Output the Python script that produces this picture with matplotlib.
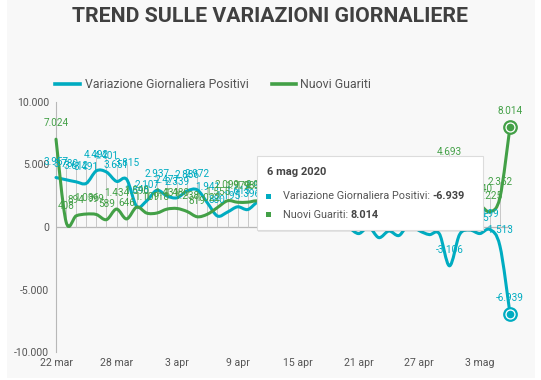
import numpy as np
import pandas as pd
import matplotlib
matplotlib.use('Agg')
import matplotlib.pyplot as plt
from matplotlib.path import Path
from matplotlib.patches import PathPatch, Rectangle
from matplotlib.lines import Line2D

plt.rcParams['font.family'] = ['Roboto', 'DejaVu Sans']

# daily data, 22 mar -> 6 mag 2020
dates = pd.date_range('2020-03-22', '2020-05-06', freq='D')
positivi = [3957, 3780, 3612, 3491, 4492, 4401, 3651, 3815, 1648, 2107,
            2937, 2477, 2339, 2886, 2972, 1941, 880, 1195, 1615, 1396,
            1996, 1984, 1363, 675, 1127, 1189, 355, 809, 486, -20,
            -528, -10, -851, -321, -680, 256, -290, -608, -548, -3106,
            -608, -239, -525, -199, -1513, -6939]
guariti = [7024, 408, 894, 1036, 999, 589, 1434, 646, 1590, 1109,
           1118, 1431, 1480, 1238, 819, 1022, 1555, 2099, 1979, 1985,
           2079, 1677, 1224, 1695, 962, 2072, 2563, 2200, 2128, 1822,
           2723, 2943, 3033, 2922, 2622, 1808, 1696, 2317, 2311, 4693,
           2304, 1665, 1740, 1225, 2352, 8014]
tick_labels = ['22 mar', '28 mar', '3 apr', '9 apr', '15 apr', '21 apr', '27 apr', '3 mag']
y_ticks = [10000, 5000, 0, -5000, -10000]

CYAN = '#00acc1'
GREEN = '#43a047'
TXT = '#555555'
W, H = 541, 380


def fmt(v):
    return f"{v:,}".replace(',', '.')


def spline_path(x, y):
    # catmull-rom style smooth line through the points
    xp = np.r_[x[0], x, x[-1]].astype(float)
    yp = np.r_[y[0], y, y[-1]].astype(float)
    verts = [(xp[1], yp[1])]
    codes = [Path.MOVETO]
    for i in range(len(x) - 1):
        c1 = (xp[i + 1] + (xp[i + 2] - xp[i]) / 6, yp[i + 1] + (yp[i + 2] - yp[i]) / 6)
        c2 = (xp[i + 2] - (xp[i + 3] - xp[i + 1]) / 6, yp[i + 2] - (yp[i + 3] - yp[i + 1]) / 6)
        verts += [c1, c2, (xp[i + 2], yp[i + 2])]
        codes += [Path.CURVE4] * 3
    return Path(verts, codes)


fig = plt.figure(figsize=(W / 100, H / 100), dpi=100, facecolor='white')
fig.add_artist(Rectangle((7 / W, 2 / H), 528 / W, 1 - 2 / H, transform=fig.transFigure,
                         facecolor='#f8f8f8', edgecolor='none', zorder=-10))

ax = fig.add_axes([56 / W, (H - 352) / H, 454 / W, 250 / H])
ax.set_facecolor('none')
x = np.arange(len(dates))
ax.set_xlim(0, len(dates) - 1)
ax.set_ylim(-10000, 10000)

for s in ['top', 'right', 'bottom']:
    ax.spines[s].set_visible(False)
ax.spines['left'].set_color('#b8b8b8')
ax.axhline(0, color='#b8b8b8', lw=0.9, zorder=1)

ax.set_xticks(x[::6])
ax.set_xticklabels(tick_labels)
ax.set_yticks(y_ticks)
ax.set_yticklabels([fmt(v) for v in y_ticks])
ax.tick_params(axis='x', length=0, pad=4.5, labelsize=7.6, labelcolor=TXT)
ax.tick_params(axis='y', length=0, pad=5, labelsize=7.6, labelcolor=TXT)

# thin drop lines under the labels
tops = [max(a, b) + 1250 for a, b in zip(positivi, guariti)]
ax.vlines(x[:-1], 0, tops[:-1], color='#c8c8c8', lw=0.7, zorder=1)

ax.add_patch(PathPatch(spline_path(x, positivi), fill=False, edgecolor=CYAN, lw=2.2,
                       capstyle='round', joinstyle='round', zorder=3, clip_on=False))
ax.add_patch(PathPatch(spline_path(x, guariti), fill=False, edgecolor=GREEN, lw=2.2,
                       capstyle='round', joinstyle='round', zorder=4, clip_on=False))

for vals, col in [(positivi, CYAN), (guariti, GREEN)]:
    for xi, v in zip(x, vals):
        ax.annotate(fmt(v), (xi, v), xytext=(0, 11.5), textcoords='offset points',
                    ha='center', va='center', fontsize=7.2, color=col, zorder=5,
                    annotation_clip=False)
    # hovered marker on the last point
    ax.plot(x[-1], vals[-1], 'o', ms=9, mfc='white', mec=col, mew=1.6, zorder=6, clip_on=False)
    ax.plot(x[-1], vals[-1], 'o', ms=4.5, mfc=col, mec=col, zorder=7, clip_on=False)

# title
fig.text(270 / W, 1 - 16 / H, 'TREND SULLE VARIAZIONI GIORNALIERE', ha='center', va='center',
         fontsize=15.3, fontweight='bold', color='#404040')

# legend
ly = 1 - 84 / H
fig.add_artist(Line2D([55 / W, 80 / W], [ly, ly], color=CYAN, lw=2.6, transform=fig.transFigure))
fig.text(85 / W, ly, 'Variazione Giornaliera Positivi', ha='left', va='center', fontsize=8.9, color=TXT)
fig.add_artist(Line2D([272 / W, 296 / W], [ly, ly], color=GREEN, lw=2.6, transform=fig.transFigure))
fig.text(300 / W, ly, 'Nuovi Guariti', ha='left', va='center', fontsize=8.9, color=TXT)

# tooltip box
bx, by, bw, bh = 257, 156, 226, 74
fig.add_artist(Rectangle(((bx + 1) / W, 1 - (by + bh + 2) / H), bw / W, bh / H, transform=fig.transFigure,
                         facecolor='#000000', alpha=0.08, edgecolor='none', zorder=9))
fig.add_artist(Rectangle((bx / W, 1 - (by + bh) / H), bw / W, bh / H, transform=fig.transFigure,
                         facecolor='white', edgecolor='#dcdcdc', lw=0.8, zorder=10))
fig.text(267 / W, 1 - 172 / H, dates[-1].strftime('%-d') + ' mag 2020', ha='left', va='center',
         fontsize=8, fontweight='bold', color='#444444', zorder=11)
rows = [('Variazione Giornaliera Positivi: ', positivi[-1], CYAN, 196),
        ('Nuovi Guariti: ', guariti[-1], GREEN, 215)]
for name, v, col, yy in rows:
    fig.add_artist(Rectangle((265.5 / W, 1 - (yy + 2.5) / H), 5 / W, 5 / H, transform=fig.transFigure,
                             facecolor=col, edgecolor='none', zorder=11))
    t = fig.text(283 / W, 1 - yy / H, name, ha='left', va='center', fontsize=7.8, color=TXT, zorder=11)
    fig.canvas.draw()
    bb = t.get_window_extent()
    fig.text(bb.x1 / W, 1 - yy / H, fmt(v), ha='left', va='center', fontsize=7.8,
             fontweight='bold', color='#444444', zorder=11)

fig.savefig('out.png', dpi=100, facecolor='white')
